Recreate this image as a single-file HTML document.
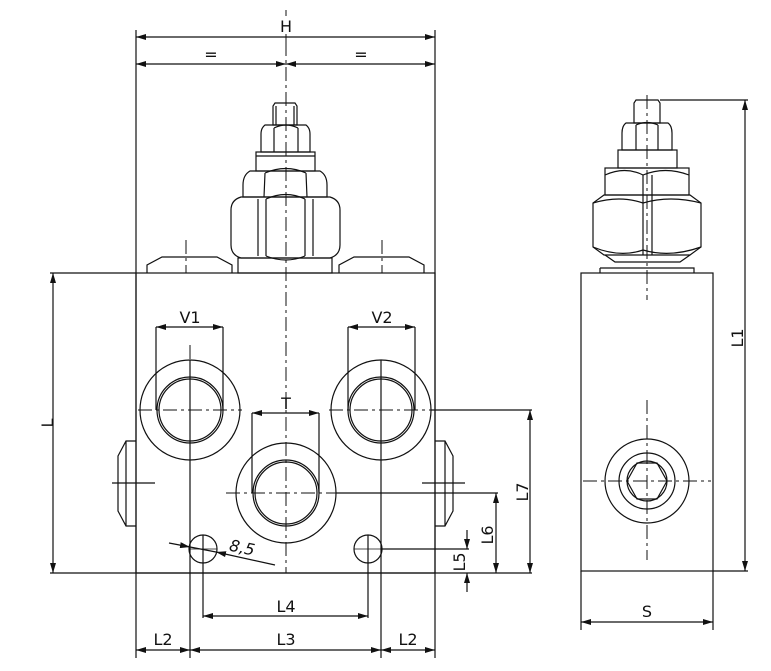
<!DOCTYPE html>
<html><head><meta charset="utf-8"><style>
html,body{margin:0;padding:0;background:#fff}
svg{display:block}
text{font-family:"DejaVu Sans","Liberation Sans",sans-serif;font-size:16px;fill:#111}
</style></head><body>
<svg width="771" height="671" viewBox="0 0 771 671" xmlns="http://www.w3.org/2000/svg">
<defs>
<marker id="a" viewBox="0 0 10 6" refX="10" refY="3" markerWidth="10" markerHeight="6" orient="auto-start-reverse" markerUnits="userSpaceOnUse"><path d="M0,0 L10,3 L0,6 z" fill="#111"/></marker>
</defs>
<g fill="none" stroke="#111" stroke-width="1.2">
<rect x="136" y="273" width="299" height="300"/>
<line x1="136" y1="30" x2="136" y2="658"/>
<line x1="435" y1="30" x2="435" y2="658"/>
<line x1="50" y1="273" x2="136" y2="273"/>
<line x1="50" y1="573" x2="532" y2="573"/>
<line x1="136" y1="37" x2="435" y2="37" marker-start="url(#a)" marker-end="url(#a)"/>
<line x1="136" y1="64" x2="286" y2="64" marker-start="url(#a)" marker-end="url(#a)"/>
<line x1="286" y1="64" x2="435" y2="64" marker-start="url(#a)" marker-end="url(#a)"/>
<line x1="53" y1="273" x2="53" y2="573" marker-start="url(#a)" marker-end="url(#a)"/>
<path d="M147,273 V265 L162,257 H217 L232,265 V273"/>
<path d="M339,273 V265 L354,257 H409 L424,265 V273"/>
<rect x="238" y="258" width="94" height="15"/>
<path d="M241,197 H330 Q340,200 340,210 V245 Q340,255 330,258 H241 Q231,255 231,245 V210 Q231,200 241,197 Z"/>
<line x1="258" y1="199" x2="258" y2="256"/><line x1="266" y1="199" x2="266" y2="256"/>
<line x1="305" y1="199" x2="305" y2="256"/><line x1="313" y1="199" x2="313" y2="256"/>
<path d="M266,199 Q286,190 305,199 M266,256 Q286,264 305,256"/>
<path d="M250,171 H320 Q327,175 327,185 V197 H243 V185 Q243,175 250,171 Z"/>
<path d="M265,173 Q286,164 306,173 M265,173 L264,197 M306,173 L307,197"/>
<rect x="256" y="152" width="59" height="19"/>
<line x1="256" y1="156" x2="315" y2="156"/>
<path d="M265,125 H306 Q310,128 310,134 V152 H261 V134 Q261,128 265,125 Z"/>
<path d="M274,128 Q286,122 298,128 M274,128 V152 M298,128 V152"/>
<path d="M275,103 H295 L297,106 V125 H273 V106 Z"/>
<line x1="276" y1="106" x2="276" y2="125"/><line x1="294" y1="106" x2="294" y2="125"/>
<circle cx="190" cy="410" r="50"/><circle cx="190" cy="410" r="33"/><circle cx="190" cy="410" r="31"/>
<circle cx="381" cy="410" r="50"/><circle cx="381" cy="410" r="33"/><circle cx="381" cy="410" r="31"/>
<circle cx="286" cy="493" r="50"/><circle cx="286" cy="493" r="33"/><circle cx="286" cy="493" r="31"/>
<circle cx="203" cy="549" r="14"/><circle cx="368" cy="549" r="14"/>
<path d="M156,410 V327 M223,410 V327"/>
<line x1="156" y1="327" x2="223" y2="327" marker-start="url(#a)" marker-end="url(#a)"/>
<path d="M348,410 V327 M415,410 V327"/>
<line x1="348" y1="327" x2="415" y2="327" marker-start="url(#a)" marker-end="url(#a)"/>
<path d="M252,493 V413 M319,493 V413"/>
<line x1="252" y1="413" x2="319" y2="413" marker-start="url(#a)" marker-end="url(#a)"/>
<path d="M136,441 H126 L118,456 V511 L126,526 H136 M126,441 V526"/>
<path d="M435,441 H445 L453,456 V511 L445,526 H435 M445,441 V526"/>
<line x1="112" y1="483" x2="155" y2="483"/>
<line x1="422" y1="483" x2="465" y2="483"/>
<line x1="190" y1="360" x2="190" y2="658"/>
<line x1="381" y1="360" x2="381" y2="658"/>
<line x1="203" y1="535" x2="203" y2="618"/>
<line x1="368" y1="535" x2="368" y2="618"/>
<line x1="189" y1="549" x2="217" y2="549" stroke-width="0.8"/>
<line x1="354" y1="549" x2="382" y2="549" stroke-width="0.8"/>
<line x1="203" y1="616" x2="368" y2="616" marker-start="url(#a)" marker-end="url(#a)"/>
<line x1="136" y1="650" x2="190" y2="650" marker-start="url(#a)" marker-end="url(#a)"/>
<line x1="190" y1="650" x2="381" y2="650" marker-start="url(#a)" marker-end="url(#a)"/>
<line x1="381" y1="650" x2="435" y2="650" marker-start="url(#a)" marker-end="url(#a)"/>
<line x1="169" y1="543" x2="190" y2="547" marker-end="url(#a)"/>
<line x1="275" y1="565" x2="216" y2="552" marker-end="url(#a)"/>
<line x1="190" y1="547" x2="216" y2="552"/>
<line x1="431" y1="410" x2="532" y2="410"/>
<line x1="336" y1="493" x2="498" y2="493"/>
<line x1="382" y1="549" x2="469" y2="549"/>
<line x1="530" y1="410" x2="530" y2="573" marker-start="url(#a)" marker-end="url(#a)"/>
<line x1="496" y1="493" x2="496" y2="573" marker-start="url(#a)" marker-end="url(#a)"/>
<line x1="467" y1="530" x2="467" y2="549" marker-end="url(#a)"/>
<line x1="467" y1="592" x2="467" y2="573" marker-end="url(#a)"/>
<rect x="581" y="273" width="132" height="298"/>
<path d="M600,268 H694 V273 M600,268 V273"/>
<path d="M605,255 L615,262 H680 L690,255"/>
<path d="M604,195 H690 L701,203 V247 L690,255 H604 L593,247 V203 Z"/>
<line x1="643" y1="195" x2="643" y2="255"/><line x1="652" y1="195" x2="652" y2="255"/>
<path d="M593,203 Q620,195 643,203 Q670,195 701,203 M593,247 Q620,258 643,250 Q670,258 701,247"/>
<rect x="605" y="168" width="84" height="27"/>
<path d="M605,175 Q625,166 643,175 Q665,166 689,175"/>
<line x1="643" y1="175" x2="643" y2="195"/><line x1="652" y1="175" x2="652" y2="195"/>
<rect x="618" y="150" width="59" height="18"/>
<path d="M626,123 H668 Q672,126 672,133 V150 H622 V133 Q622,126 626,123 Z"/>
<path d="M636,125 Q647,120 658,125 M636,125 V150 M658,125 V150"/>
<path d="M636,100 H658 L660,103 V123 H634 V103 Z"/>
<circle cx="647" cy="481" r="42"/><circle cx="647" cy="481" r="28"/><circle cx="647" cy="481" r="20"/>
<path d="M637,463 H657 L667,481 L657,499 H637 L627,481 Z"/>
<line x1="660" y1="100" x2="748" y2="100"/>
<line x1="713" y1="571" x2="748" y2="571"/>
<line x1="745" y1="100" x2="745" y2="571" marker-start="url(#a)" marker-end="url(#a)"/>
<path d="M581,571 V630 M713,571 V630"/>
<line x1="581" y1="622" x2="713" y2="622" marker-start="url(#a)" marker-end="url(#a)"/>
</g>
<g fill="none" stroke="#111" stroke-width="1" stroke-dasharray="14,4,3,4">
<line x1="286" y1="42" x2="286" y2="573"/>
<line x1="186" y1="240" x2="186" y2="273"/>
<line x1="382" y1="240" x2="382" y2="273"/>
<line x1="190" y1="345" x2="190" y2="462"/>
<line x1="138" y1="410" x2="242" y2="410"/>
<line x1="329" y1="410" x2="433" y2="410"/>
<line x1="226" y1="493" x2="336" y2="493"/>
<line x1="647" y1="95" x2="647" y2="300"/>
<line x1="647" y1="400" x2="647" y2="560"/>
<line x1="583" y1="481" x2="711" y2="481"/>
</g>
<line x1="286" y1="10" x2="286" y2="42" stroke="#111" stroke-width="1"/>
<g>
<rect x="278" y="16" width="16" height="18" fill="#fff"/>
<text x="286" y="32" text-anchor="middle">H</text>
<text x="211" y="60" text-anchor="middle">=</text>
<text x="361" y="60" text-anchor="middle">=</text>
<text x="48" y="423" text-anchor="middle" transform="rotate(-90 48 423)" dy="5">L</text>
<text x="190" y="323" text-anchor="middle">V1</text>
<text x="382" y="323" text-anchor="middle">V2</text>
<text x="286" y="409" text-anchor="middle">T</text>
<text x="241" y="553" text-anchor="middle" font-style="italic" transform="rotate(12 241 553)">8,5</text>
<text x="286" y="612" text-anchor="middle">L4</text>
<text x="163" y="645" text-anchor="middle">L2</text>
<text x="286" y="645" text-anchor="middle">L3</text>
<text x="408" y="645" text-anchor="middle">L2</text>
<text x="523" y="492" text-anchor="middle" transform="rotate(-90 523 492)" dy="5">L7</text>
<text x="488" y="535" text-anchor="middle" transform="rotate(-90 488 535)" dy="5">L6</text>
<text x="460" y="562" text-anchor="middle" transform="rotate(-90 460 562)" dy="5">L5</text>
<text x="738" y="338" text-anchor="middle" transform="rotate(-90 738 338)" dy="5">L1</text>
<text x="647" y="617" text-anchor="middle">S</text>
</g>
</svg>
</body></html>
